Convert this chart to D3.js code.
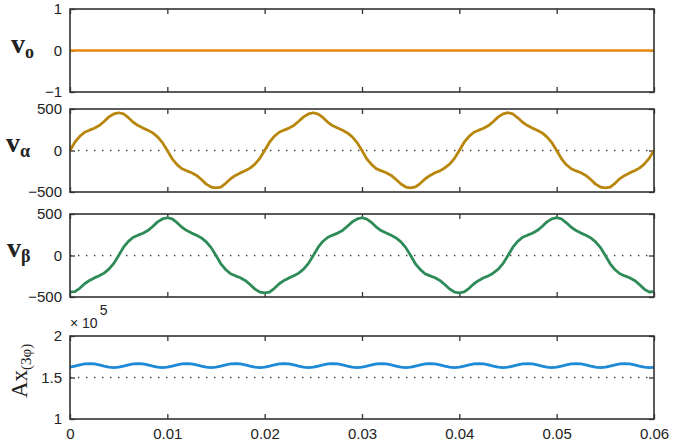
<!DOCTYPE html>
<html>
<head>
<meta charset="utf-8">
<script src="https://cdn.jsdelivr.net/npm/d3@7"></script>
<style>
  body { margin: 0; background: #fff; }
  svg { display: block; }
  .tick text { font-family: "Liberation Sans", Arial, sans-serif; font-size: 15px; fill: #222; }
</style>
</head>
<body>
<div id="chart"></div>
<script>
// sample time step 0.0005 s, 0 .. 0.06
const time = d3.range(121).map(i => +(i * 0.0005).toFixed(4));
const xTicks = [0, 0.01, 0.02, 0.03, 0.04, 0.05, 0.06];

const voTime = [0, 0.06];
const vo = [0, 0];

const vAlpha = [
  0, 100, 170, 220, 245, 268, 300, 350, 405, 440,
  455, 440, 395, 340, 300, 270, 245, 212, 165, 95,
  0, -100, -170, -220, -245, -268, -300, -350, -405, -440,
  -450, -440, -395, -340, -300, -270, -245, -212, -165, -95,
  0, 100, 172, 220, 246, 270, 302, 352, 405, 440,
  455, 438, 395, 340, 298, 270, 244, 212, 164, 95,
  0, -102, -170, -222, -245, -268, -300, -350, -404, -440,
  -450, -438, -395, -340, -300, -268, -245, -210, -165, -95,
  0, 100, 170, 220, 245, 268, 300, 350, 405, 442,
  455, 440, 394, 340, 300, 270, 245, 212, 165, 96,
  0, -100, -172, -220, -246, -268, -300, -350, -405, -440,
  -450, -440, -395, -338, -300, -270, -245, -212, -165, -95,
  0
];

const vBeta = [
  -438, -436, -395, -340, -300, -270, -245, -212, -165, -95,
  0, 100, 170, 220, 245, 268, 300, 350, 405, 440,
  455, 440, 395, 340, 300, 270, 245, 212, 165, 95,
  0, -100, -170, -220, -245, -268, -300, -350, -405, -440,
  -450, -440, -395, -340, -300, -270, -245, -212, -165, -95,
  0, 100, 172, 220, 246, 270, 302, 352, 405, 440,
  455, 438, 395, 340, 298, 270, 244, 212, 164, 95,
  0, -102, -170, -222, -245, -268, -300, -350, -404, -440,
  -450, -438, -395, -340, -300, -268, -245, -210, -165, -95,
  0, 100, 170, 220, 245, 268, 300, 350, 405, 442,
  455, 440, 394, 340, 300, 270, 245, 212, 165, 96,
  0, -100, -172, -220, -246, -268, -300, -350, -405, -440,
  -436
];

// Ax in units of 1e5
const ax3 = [
  1.625, 1.638, 1.652, 1.663, 1.668, 1.664, 1.652, 1.638, 1.626, 1.620,
  1.625, 1.638, 1.652, 1.663, 1.668, 1.664, 1.652, 1.638, 1.626, 1.620,
  1.625, 1.638, 1.653, 1.663, 1.668, 1.664, 1.652, 1.638, 1.626, 1.620,
  1.625, 1.638, 1.652, 1.663, 1.668, 1.664, 1.652, 1.637, 1.626, 1.620,
  1.625, 1.638, 1.652, 1.663, 1.668, 1.664, 1.652, 1.638, 1.626, 1.620,
  1.625, 1.638, 1.652, 1.663, 1.668, 1.664, 1.652, 1.638, 1.626, 1.620,
  1.625, 1.638, 1.652, 1.663, 1.668, 1.664, 1.652, 1.638, 1.626, 1.620,
  1.625, 1.638, 1.652, 1.663, 1.668, 1.664, 1.652, 1.638, 1.626, 1.620,
  1.625, 1.638, 1.652, 1.663, 1.668, 1.664, 1.652, 1.638, 1.626, 1.620,
  1.625, 1.638, 1.652, 1.663, 1.668, 1.664, 1.652, 1.638, 1.626, 1.620,
  1.625, 1.638, 1.652, 1.663, 1.668, 1.664, 1.652, 1.638, 1.626, 1.620,
  1.625, 1.638, 1.652, 1.663, 1.668, 1.664, 1.652, 1.638, 1.626, 1.620,
  1.622
];

const width = 673, height = 443;
const left = 70, right = 654;

const svg = d3.select("#chart").append("svg")
  .attr("width", width)
  .attr("height", height);

const x = d3.scaleLinear().domain([0, 0.06]).range([left, right]);

const panels = [
  { top: 9, bottom: 92, domain: [-1, 1], ticks: [-1, 0, 1], t: voTime, v: vo, color: "#E8890C", ref: null, width: 2.6 },
  { top: 109, bottom: 192, domain: [-500, 500], ticks: [-500, 0, 500], t: time, v: vAlpha, color: "#B8860B", ref: 0, width: 2.8 },
  { top: 214, bottom: 297, domain: [-500, 500], ticks: [-500, 0, 500], t: time, v: vBeta, color: "#2E8B57", ref: 0, width: 2.8 },
  { top: 336, bottom: 419, domain: [1, 2], ticks: [1, 1.5, 2], t: time, v: ax3, color: "#1E8AD6", ref: 1.5, width: 2.8, xlabels: true }
];

panels.forEach(p => {
  const y = d3.scaleLinear().domain(p.domain).range([p.bottom, p.top]);
  const g = svg.append("g");

  // dotted reference line
  if (p.ref !== null) {
    g.append("line")
      .attr("x1", left).attr("x2", right)
      .attr("y1", y(p.ref)).attr("y2", y(p.ref))
      .attr("stroke", "#444")
      .attr("stroke-width", 1.4)
      .attr("stroke-dasharray", "1.4,6.6");
  }

  // y axes (ticks pointing inward)
  g.append("g")
    .attr("transform", `translate(${left},0)`)
    .call(d3.axisLeft(y).tickValues(p.ticks).tickSize(-5).tickPadding(8).tickFormat(d3.format("")))
    .call(a => a.select(".domain").remove());
  g.append("g")
    .attr("transform", `translate(${right},0)`)
    .call(d3.axisRight(y).tickValues(p.ticks).tickSize(-5).tickFormat(""))
    .call(a => a.select(".domain").remove());

  // x ticks top and bottom
  g.append("g")
    .attr("transform", `translate(0,${p.top})`)
    .call(d3.axisTop(x).tickValues(xTicks).tickSize(-5).tickFormat(""))
    .call(a => a.select(".domain").remove());
  g.append("g")
    .attr("transform", `translate(0,${p.bottom})`)
    .call(d3.axisBottom(x).tickValues(xTicks).tickSize(-5).tickPadding(9)
      .tickFormat(p.xlabels ? d3.format("") : ""))
    .call(a => a.select(".domain").remove());

  g.selectAll(".tick line").attr("stroke", "#333").attr("stroke-width", 1.3);

  // signal
  const data = p.t.map((t, i) => [t, p.v[i]]);
  g.append("path")
    .datum(data)
    .attr("fill", "none")
    .attr("stroke", p.color)
    .attr("stroke-width", p.width)
    .attr("stroke-linejoin", "round")
    .attr("d", d3.line().x(d => x(d[0])).y(d => y(d[1])));

  // frame
  g.append("rect")
    .attr("x", left).attr("y", p.top)
    .attr("width", right - left).attr("height", p.bottom - p.top)
    .attr("fill", "none")
    .attr("stroke", "#333")
    .attr("stroke-width", 1.6);
});

// y labels
const serif = '"Liberation Serif", "Times New Roman", serif';
function vLabel(xp, yp, sub) {
  const t = svg.append("text")
    .attr("x", xp).attr("y", yp)
    .attr("font-family", serif)
    .attr("font-size", 28)
    .attr("fill", "#222");
  t.append("tspan").attr("font-weight", "bold").text("v");
  t.append("tspan").attr("font-size", 18).attr("font-weight", "bold").attr("dy", 5).text(sub);
}
vLabel(11, 53, "o");
vLabel(6, 152, "α");
vLabel(7, 257, "β");

svg.append("text")
  .attr("transform", "translate(27,398) rotate(-90)")
  .attr("font-family", serif)
  .attr("font-size", 23)
  .attr("fill", "#222")
  .call(t => {
    t.append("tspan").text("Ax");
    t.append("tspan").attr("font-size", 15).attr("dy", 4).text("(3φ)");
  });

// exponent label
svg.append("text")
  .attr("x", 70).attr("y", 328)
  .attr("font-family", '"Liberation Sans", Arial, sans-serif')
  .attr("font-size", 14)
  .attr("fill", "#222")
  .call(t => {
    t.append("tspan").text("× 10");
    t.append("tspan").attr("dy", -13).attr("dx", 2).text("5");
  });
</script>
</body>
</html>
